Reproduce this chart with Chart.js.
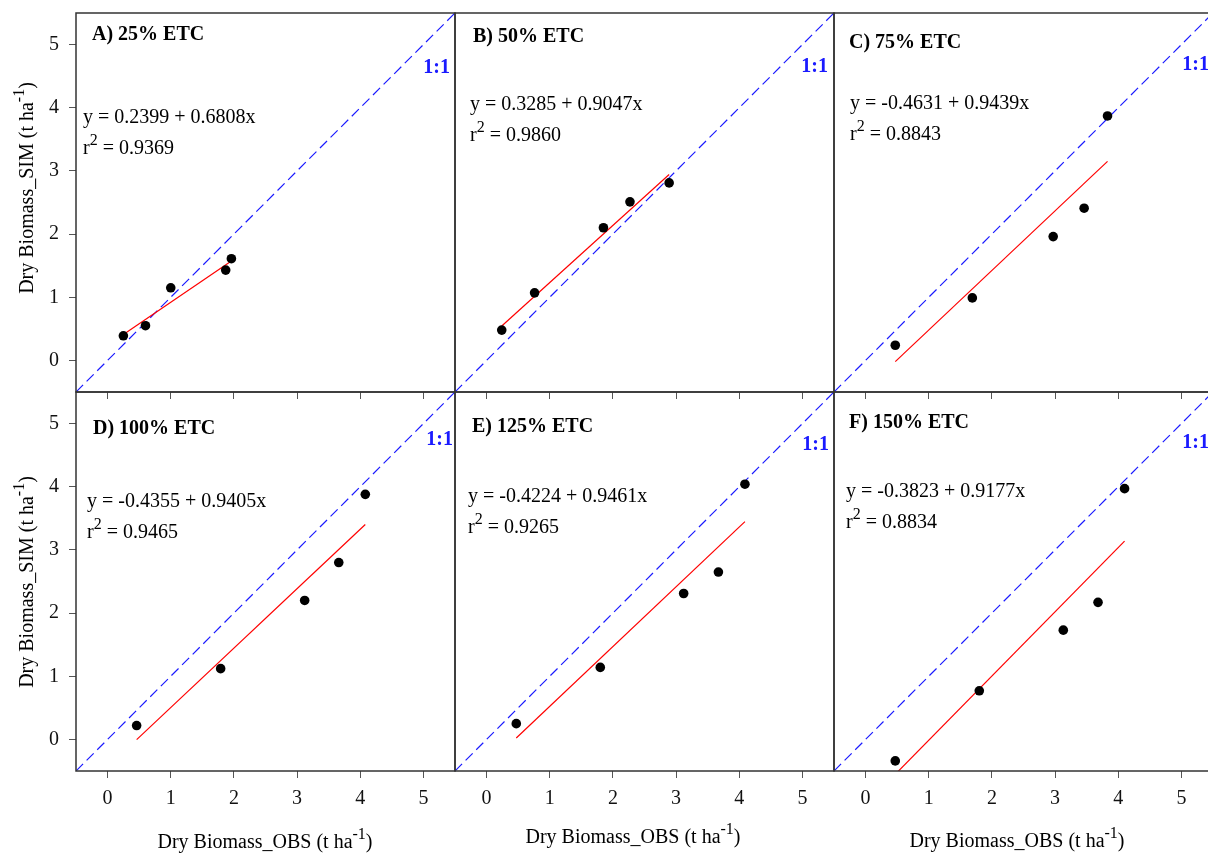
<!DOCTYPE html>
<html>
<head>
<meta charset="utf-8">
<script src="https://cdn.jsdelivr.net/npm/chart.js@4"></script>
<style>
  html, body { margin: 0; padding: 0; background: #fff; overflow: hidden; }
  #wrap { position: relative; width: 1208px; height: 853px; overflow: hidden; }
  #wrap canvas { position: absolute; }
</style>
</head>
<body>
<div id="wrap"></div>
<script>
// ===== data =====
const axisRange = [-0.5, 5.5]
const xTicks = [0, 1, 2, 3, 4, 5]
const yTicks = [0, 1, 2, 3, 4, 5]
const oneToOne = [-0.5, 5.5]

const panelTitles = ['A) 25% ETC', 'B) 50% ETC', 'C) 75% ETC', 'D) 100% ETC', 'E) 125% ETC', 'F) 150% ETC']

// observed (x) / simulated (y) dry biomass, t ha-1
const obs25 = [0.25, 0.60, 1.00, 1.87, 1.96]
const sim25 = [0.39, 0.55, 1.15, 1.43, 1.61]
const obs50 = [0.24, 0.76, 1.85, 2.27, 2.89]
const sim50 = [0.48, 1.07, 2.10, 2.51, 2.81]
const obs75 = [0.47, 1.69, 2.97, 3.46, 3.83]
const sim75 = [0.24, 0.99, 1.96, 2.41, 3.87]
const obs100 = [0.46, 1.79, 3.12, 3.66, 4.08]
const sim100 = [0.22, 1.12, 2.20, 2.80, 3.88]
const obs125 = [0.47, 1.80, 3.12, 3.67, 4.09]
const sim125 = [0.25, 1.14, 2.31, 2.65, 4.04]
const obs150 = [0.47, 1.80, 3.13, 3.68, 4.10]
const sim150 = [-0.34, 0.77, 1.73, 2.17, 3.97]

// printed regression text
const eqLabels = ['y = 0.2399 + 0.6808x', 'y = 0.3285 + 0.9047x', 'y = -0.4631 + 0.9439x',
  'y = -0.4355 + 0.9405x', 'y = -0.4224 + 0.9461x', 'y = -0.3823 + 0.9177x']
const r2Labels = ['0.9369', '0.9860', '0.8843', '0.9465', '0.9265', '0.8834']

// red fitted lines as drawn (F is drawn steeper than its printed equation)
const lineIntercepts = [0.2399, 0.3285, -0.4631, -0.4355, -0.4224, -1.03]
const lineSlopes = [0.6808, 0.9047, 0.9439, 0.9405, 0.9461, 1.017]

const obsSets = [obs25, obs50, obs75, obs100, obs125, obs150]
const simSets = [sim25, sim50, sim75, sim100, sim125, sim150]

// ===== layout =====
const colLeft = [76, 455, 834]
const rowTop = [13, 392]
const SIZE = 379
const padL = 76, padT = 13, padR = 10, padB = 82
const FONT = '"Liberation Serif", "Times New Roman", serif'
const FS = 20

// text offsets from the plot box
const titlePos = [[16, 22], [18, 24], [15, 30], [17, 37], [17, 35], [15, 31]]
const eqPos = [[7, 105], [15, 92], [16, 91], [11, 110], [13, 105], [12, 100]]
const onePos = [[5, 55], [6, 54], [4, 52], [2, 48], [5, 53], [4, 51]]
const yTitleY = [175, 190]
const xTitleX = [189, 178, 183]
const xTitleY = [72, 67, 71]

// draws text with superscript parts
const drawRich = (ctx, parts, x, y, align, size, bold) => {
  const fontFor = sup => `${bold ? 'bold ' : ''}${sup ? Math.round(size * 0.8) : size}px ${FONT}`
  let total = 0
  parts.forEach(p => { ctx.font = fontFor(p.sup); total += ctx.measureText(p.t).width })
  let cx = align === 'center' ? x - total / 2 : align === 'right' ? x - total : x
  ctx.textAlign = 'left'
  ctx.textBaseline = 'middle'
  parts.forEach(p => {
    ctx.font = fontFor(p.sup)
    ctx.fillText(p.t, cx, p.sup ? y - size * 0.42 : y)
    cx += ctx.measureText(p.t).width
  })
}

const panelText = {
  id: 'panelText',
  afterDraw(chart, args, opts) {
    const { ctx, chartArea: a } = chart
    const i = opts.idx, col = i % 3, row = Math.floor(i / 3)
    ctx.save()
    // frame
    ctx.strokeStyle = '#333'
    ctx.lineWidth = 1.5
    ctx.strokeRect(a.left, a.top, a.right - a.left, a.bottom - a.top)

    ctx.fillStyle = '#000'
    drawRich(ctx, [{ t: panelTitles[i] }], a.left + titlePos[i][0], a.top + titlePos[i][1], 'left', FS, true)
    drawRich(ctx, [{ t: eqLabels[i] }], a.left + eqPos[i][0], a.top + eqPos[i][1], 'left', FS)
    drawRich(ctx, [{ t: 'r' }, { t: '2', sup: true }, { t: ' = ' + r2Labels[i] }],
      a.left + eqPos[i][0], a.top + eqPos[i][1] + 31, 'left', FS)

    ctx.fillStyle = '#1a1aff'
    drawRich(ctx, [{ t: '1:1' }], a.right - onePos[i][0], a.top + onePos[i][1], 'right', FS, true)

    ctx.fillStyle = '#000'
    if (col === 0) {
      ctx.save()
      ctx.translate(28, a.top + yTitleY[row])
      ctx.rotate(-Math.PI / 2)
      drawRich(ctx, [{ t: 'Dry Biomass_SIM (t ha' }, { t: '-1', sup: true }, { t: ')' }], 0, 0, 'center', FS)
      ctx.restore()
    }
    if (row === 1) {
      drawRich(ctx, [{ t: 'Dry Biomass_OBS (t ha' }, { t: '-1', sup: true }, { t: ')' }],
        a.left + xTitleX[col], a.bottom + xTitleY[col], 'center', FS)
    }
    ctx.restore()
  }
}

// keep tick labels from pushing the plot box around
const noEdgePad = s => {
  s.paddingTop = 0
  s.paddingBottom = 0
  s.paddingLeft = 0
  s.paddingRight = 0
}

const wrap = document.getElementById('wrap')

panelTitles.forEach((name, i) => {
  const col = i % 3, row = Math.floor(i / 3)
  const cv = document.createElement('canvas')
  const w = padL + SIZE + padR, h = padT + SIZE + padB
  cv.width = w
  cv.height = h
  cv.style.width = w + 'px'
  cv.style.height = h + 'px'
  cv.style.left = (colLeft[col] - padL) + 'px'
  cv.style.top = (rowTop[row] - padT) + 'px'
  wrap.appendChild(cv)

  const obs = obsSets[i], sim = simSets[i]
  const x0 = Math.min(...obs), x1 = Math.max(...obs)
  const fit = [x0, x1].map(x => ({ x, y: lineIntercepts[i] + lineSlopes[i] * x }))

  new Chart(cv, {
    type: 'scatter',
    data: {
      datasets: [
        {
          data: obs.map((x, k) => ({ x, y: sim[k] })),
          backgroundColor: '#000',
          borderWidth: 0,
          pointRadius: 4.8
        },
        {
          data: fit,
          showLine: true,
          borderColor: '#ff0000',
          borderWidth: 1.2,
          pointRadius: 0
        },
        {
          data: oneToOne.map(v => ({ x: v, y: v })),
          showLine: true,
          borderColor: '#1a1aff',
          borderWidth: 1.2,
          borderDash: [10, 5],
          pointRadius: 0
        }
      ]
    },
    options: {
      responsive: false,
      animation: false,
      events: [],
      layout: { padding: { left: 0, top: padT, right: padR, bottom: 0 } },
      plugins: { legend: { display: false }, tooltip: { enabled: false }, panelText: { idx: i } },
      scales: {
        x: {
          type: 'linear',
          min: axisRange[0],
          max: axisRange[1],
          afterBuildTicks: s => { s.ticks = xTicks.map(v => ({ value: v })) },
          afterFit: s => { s.height = padB; noEdgePad(s) },
          border: { display: false },
          grid: { drawOnChartArea: false, drawTicks: true, tickLength: 7, color: '#555', lineWidth: 1 },
          ticks: { display: row === 1, padding: 9, color: '#111', font: { family: FONT, size: FS } }
        },
        y: {
          type: 'linear',
          min: axisRange[0],
          max: axisRange[1],
          afterBuildTicks: s => { s.ticks = yTicks.map(v => ({ value: v })) },
          afterFit: s => { s.width = padL; noEdgePad(s) },
          border: { display: false },
          grid: { drawOnChartArea: false, drawTicks: col === 0, tickLength: 7, color: '#555', lineWidth: 1 },
          ticks: { display: col === 0, padding: 10, color: '#111', font: { family: FONT, size: FS } }
        }
      }
    },
    plugins: [panelText]
  })
})
</script>
</body>
</html>
